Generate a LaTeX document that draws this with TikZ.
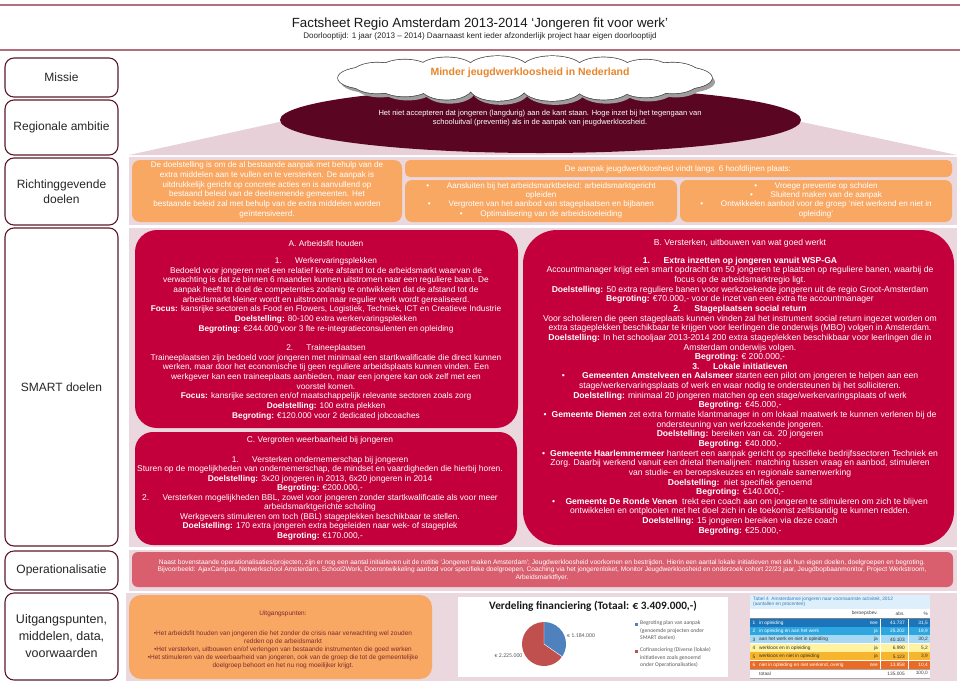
\documentclass[tikz,border=0pt]{standalone}
\usepackage{fontspec}
\setmainfont{Liberation Sans}
\newfontfamily\calfont{Carlito}
\definecolor{lblline}{HTML}{5A1A2A}
\definecolor{pinkbg}{HTML}{EAD8DE}
\definecolor{pinktrap}{HTML}{E7D0D8}
\definecolor{orbox}{HTML}{F9A864}
\definecolor{crim}{HTML}{C4003C}
\definecolor{ellfill}{HTML}{5A0622}
\definecolor{rosebox}{HTML}{D95F6F}
\definecolor{headln}{HTML}{B46F7F}
\definecolor{cloudtxt}{HTML}{E8852B}
\definecolor{uittxt}{HTML}{7A2A2E}
\definecolor{pieblue}{HTML}{4F81BD}
\definecolor{piered}{HTML}{C0504D}
\definecolor{tcap}{HTML}{DCEFFA}
\definecolor{tcaptxt}{HTML}{3A7DBE}
\definecolor{rowA}{HTML}{1B75BB}
\definecolor{rowB}{HTML}{2EA6E0}
\definecolor{rowC}{HTML}{A8D9F2}
\definecolor{rowD}{HTML}{FFF3A2}
\definecolor{rowE}{HTML}{F7B52E}
\definecolor{rowF}{HTML}{EB6B25}
\newcommand{\fsz}[2]{\fontsize{#1}{#2}\selectfont}
\newcommand{\puffs}{0/30/11, 20/26/12, 40/27/13, 60/28/13, 80/30/13, 100/28/13, 120/26/13, 140/27/12, 160/26/12, 180/30/11, 200/26/12, 220/27/12, 240/28/12, 260/30/12, 280/30/12, 300/28/12, 320/26/12, 340/27/12}
\begin{document}
\begin{tikzpicture}[x=1pt,y=-1pt,
  lbl/.style={draw=lblline, line width=1.1pt, fill=white, rounded corners=9pt, font=\fsz{12}{14.5}, text=black!85, align=center, inner sep=0, minimum width=113pt},
  wtxt/.style={inner sep=0, align=center, text=white},
  tabtxt/.style={inner sep=0, font=\fsz{4.8}{5.5}},
  legtxt/.style={inner sep=0, align=left, anchor=north west, font=\calfont\fsz{5.6}{7.4}, text=black!65}
]
\useasboundingbox (0,0) rectangle (960,683);
\fill[white] (0,0) rectangle (960,683);

% header
\draw[headln, line width=2pt] (0,5) -- (960,5);
\draw[headln, line width=2pt] (0,50) -- (960,50);
\node[inner sep=0, font=\fsz{13.3}{15}, text=black!90] (title) at (480,24) {Factsheet Regio Amsterdam 2013-2014 ‘Jongeren fit voor werk’};
\node[inner sep=0, font=\fsz{8.1}{9}, text=black!85] (subtitle) at (480,36.5) {Doorlooptijd: 1 jaar (2013 – 2014) Daarnaast kent ieder afzonderlijk project haar eigen doorlooptijd};

% left labels
\node[lbl, minimum height=39pt] (missie) at (61.5,77.5) {Missie};
\node[lbl, minimum height=55pt] (ambitie) at (61.5,127.5) {Regionale ambitie};
\node[lbl, minimum height=67pt] (richt) at (61.5,191.5) {Richtinggevende\\doelen};
\node[lbl, minimum height=318pt] (smart) at (61.5,387) {SMART doelen};
\node[lbl, minimum height=39pt] (oper) at (61.5,570.5) {Operationalisatie};
\node[lbl, minimum height=87pt, font=\fsz{12.5}{17}] (uitg) at (61.5,636.5) {Uitgangspunten,\\middelen, data,\\voorwaarden};

% pink panels
\fill[pinktrap] (284,121) -- (797,121) -- (957,155) -- (129,155) -- cycle;
\fill[pinkbg] (129,157) rectangle (957,225);
\fill[pinkbg] (129,228) rectangle (957,547);
\fill[pinkbg] (129,550) rectangle (957,591);
\fill[pinkbg] (126,593) rectangle (957,681);

% ambition ellipse
\fill[ellfill] (540.5,120) ellipse [x radius=260.5, y radius=33];
\node[wtxt, font=\fsz{7.5}{9}, anchor=north] (ambtxt) at (540,110) {Het niet accepteren dat jongeren (langdurig) aan de kant staan. Hoge inzet bij het tegengaan van\\schooluitval (preventie) als in de aanpak van jeugdwerkloosheid.};

% mission cloud (drawn from puffs)
\foreach \a/\rx/\ry in \puffs
  \fill[black!38, shift={(528,82)}] (\a:157 and 10) ellipse [x radius=\rx, y radius=\ry];
\foreach \a/\rx/\ry in \puffs
  \draw[black!75, line width=1.4pt, shift={(525,78)}] (\a:157 and 10) ellipse [x radius=\rx, y radius=\ry];
\foreach \a/\rx/\ry in \puffs
  \fill[white, shift={(525,78)}] (\a:157 and 10) ellipse [x radius=\rx, y radius=\ry];
\fill[white] (525,78) ellipse [x radius=157, y radius=10];
\node[inner sep=0, font=\bfseries\fsz{10.5}{12}, text=cloudtxt] (cloudtext) at (530,73) {Minder jeugdwerkloosheid in Nederland};

% richtinggevende doelen
\fill[orbox, rounded corners=8pt] (132,160) rectangle (402,222);
\fill[orbox, rounded corners=5pt] (405,160) rectangle (952,177);
\fill[orbox, rounded corners=7pt] (405,180) rectangle (677,222);
\fill[orbox, rounded corners=7pt] (680,180) rectangle (952,222);
\node[wtxt, font=\fsz{8.1}{9.8}, anchor=north] (richtL) at (267,161.5) {De doelstelling is om de al bestaande aanpak met behulp van de\\extra middelen aan te vullen en te versterken. De aanpak is\\uitdrukkelijk gericht op concrete acties en is aanvullend op\\bestaand beleid van de deelnemende gemeenten. Het\\bestaande beleid zal met behulp van de extra middelen worden\\geïntensiveerd.};
\node[wtxt, font=\fsz{8.1}{9.4}, anchor=base] (richtT) at (678,171.5) {De aanpak jeugdwerkloosheid vindt langs\ \ 6 hoofdlijnen plaats:};
\node[wtxt, font=\fsz{8.1}{9.2}, anchor=north] (richtA) at (541,182.5) {•\hspace{2.2em}Aansluiten bij het arbeidsmarktbeleid: arbeidsmarktgericht\\opleiden\\•\hspace{2.2em}Vergroten van het aanbod van stageplaatsen en bijbanen\\•\hspace{2.2em}Optimalisering van de arbeidstoeleiding};
\node[wtxt, font=\fsz{8.1}{9.2}, anchor=north] (richtB) at (816,182.5) {•\hspace{2.2em}Vroege preventie op scholen\\•\hspace{2.2em}Sluitend maken van de aanpak\\•\hspace{2.2em}Ontwikkelen aanbod voor de groep ‘niet werkend en niet in\\opleiding’};

% SMART boxes
\fill[crim, rounded corners=22pt] (135,230) rectangle (518,428);
\fill[crim, rounded corners=18pt] (135,432) rectangle (517,545);
\fill[crim, rounded corners=34pt] (523,230) rectangle (954,545);

\node[wtxt, font=\fsz{8.3}{9.7}, anchor=north] (atext) at (326,240.2) {A. Arbeidsfit houden\\[7.3pt]
1.\hspace{1.6em}Werkervaringsplekken\\
Bedoeld voor jongeren met een relatief korte afstand tot de arbeidsmarkt waarvan de\\
verwachting is dat ze binnen 6 maanden kunnen uitstromen naar een reguliere baan. De\\
aanpak heeft tot doel de competenties zodanig te ontwikkelen dat de afstand tot de\\
arbeidsmarkt kleiner wordt en uitstroom naar regulier werk wordt gerealiseerd.\\
\textbf{Focus:} kansrijke sectoren als Food en Flowers, Logistiek, Techniek, ICT en Creatieve Industrie\\
\textbf{Doelstelling:} 80-100 extra werkervaringsplekken\\
\textbf{Begroting:} €244.000 voor 3 fte re-integratieconsulenten en opleiding\\[9.3pt]
2.\hspace{1.6em}Traineeplaatsen\\
Traineeplaatsen zijn bedoeld voor jongeren met minimaal een startkwalificatie die direct kunnen\\
werken, maar door het economische tij geen reguliere arbeidsplaats kunnen vinden. Een\\
werkgever kan een traineeplaats aanbieden, maar een jongere kan ook zelf met een\\
voorstel komen.\\
\textbf{Focus:} kansrijke sectoren en/of maatschappelijk relevante sectoren zoals zorg\\
\textbf{Doelstelling:} 100 extra plekken\\
\textbf{Begroting:} €120.000 voor 2 dedicated jobcoaches};

\node[wtxt, font=\fsz{8.4}{9.5}, anchor=north] (ctext) at (320,436.3) {C. Vergroten weerbaarheid bij jongeren\\[10.4pt]
1.\hspace{1.6em}Versterken ondernemerschap bij jongeren\\
Sturen op de mogelijkheden van ondernemerschap, de mindset en vaardigheden die hierbij horen.\\
\textbf{Doelstelling:} 3x20 jongeren in 2013, 6x20 jongeren in 2014\\
\textbf{Begroting:} €200.000,-\\
2.\hspace{1.6em}Versterken mogelijkheden BBL, zowel voor jongeren zonder startkwalificatie als voor meer\\
arbeidsmarktgerichte scholing\\
Werkgevers stimuleren om toch (BBL) stageplekken beschikbaar te stellen.\\
\textbf{Doelstelling:} 170 extra jongeren extra begeleiden naar wek- of stageplek\\
\textbf{Begroting:} €170.000,-};

\node[wtxt, font=\fsz{8.6}{9.64}, anchor=north] (btext) at (740,238.8) {B. Versterken, uitbouwen van wat goed werkt\\[8.4pt]
\textbf{1.\hspace{1.6em}Extra inzetten op jongeren vanuit WSP-GA}\\
Accountmanager krijgt een smart opdracht om 50 jongeren te plaatsen op reguliere banen, waarbij de\\
focus op de arbeidsmarktregio ligt.\\
\textbf{Doelstelling:} 50 extra reguliere banen voor werkzoekende jongeren uit de regio Groot-Amsterdam\\
\textbf{Begroting:} €70.000,- voor de inzet van een extra fte accountmanager\\
\textbf{2.\hspace{1.6em}Stageplaatsen social return}\\
Voor scholieren die geen stageplaats kunnen vinden zal het instrument social return ingezet worden om\\
extra stageplekken beschikbaar te krijgen voor leerlingen die onderwijs (MBO) volgen in Amsterdam.\\
\textbf{Doelstelling:} In het schooljaar 2013-2014 200 extra stageplekken beschikbaar voor leerlingen die in\\
Amsterdam onderwijs volgen.\\
\textbf{Begroting:} € 200.000,-\\
\textbf{3.\hspace{1.6em}Lokale initiatieven}\\
•\hspace{2em}\textbf{Gemeenten Amstelveen en Aalsmeer} starten een pilot om jongeren te helpen aan een\\
stage/werkervaringsplaats of werk en waar nodig te ondersteunen bij het solliciteren.\\
\textbf{Doelstelling:} minimaal 20 jongeren matchen op een stage/werkervaringsplaats of werk\\
\textbf{Begroting:} €45.000,-\\
•\hspace{0.6em}\textbf{Gemeente Diemen} zet extra formatie klantmanager in om lokaal maatwerk te kunnen verlenen bij de\\
ondersteuning van werkzoekende jongeren.\\
\textbf{Doelstelling:} bereiken van ca. 20 jongeren\\
\textbf{Begroting:} €40.000,-\\
•\hspace{0.6em}\textbf{Gemeente Haarlemmermeer} hanteert een aanpak gericht op specifieke bedrijfssectoren Techniek en\\
Zorg. Daarbij werkend vanuit een drietal themalijnen: matching tussen vraag en aanbod, stimuleren\\
van studie- en beroepskeuzes en regionale samenwerking\\
\textbf{Doelstelling:}\ \ niet specifiek genoemd\\
\textbf{Begroting:} €140.000,-\\
•\hspace{1.2em}\textbf{Gemeente De Ronde Venen}\ \ trekt een coach aan om jongeren te stimuleren om zich te blijven\\
ontwikkelen en ontplooien met het doel zich in de toekomst zelfstandig te kunnen redden.\\
\textbf{Doelstelling:} 15 jongeren bereiken via deze coach\\
\textbf{Begroting:} €25.000,-};

% operationalisatie
\fill[rosebox, rounded corners=6pt] (132,552) rectangle (953,587);
\node[wtxt, font=\fsz{6.6}{7.6}, anchor=north] (opertext) at (542,559.4) {Naast bovenstaande operationalisaties/projecten, zijn er nog een aantal initiatieven uit de notitie ‘Jongeren maken Amsterdam’; Jeugdwerkloosheid voorkomen en bestrijden. Hierin een aantal lokale initiatieven met elk hun eigen doelen, doelgroepen en begroting.\\
Bijvoorbeeld: AjaxCampus, Netwerkschool Amsterdam, School2Work, Doorontwikkeling aanbod voor specifieke doelgroepen, Coaching via het jongerenloket, Monitor Jeugdwerkloosheid en onderzoek cohort 22/23 jaar, Jeugdbopbaanmonitor, Project Werkstroom,\\
Arbeidsmarktflyer.};

% uitgangspunten
\fill[orbox, rounded corners=12pt] (129,595) rectangle (432,679);
\node[inner sep=0, align=center, text=uittxt, font=\fsz{6.5}{8}, anchor=north] (uitgtext) at (283,610.7) {Uitgangspunten:\\[12pt]
•Het arbeidsfit houden van jongeren die het zonder de crisis naar verwachting wel zouden\\
redden op de arbeidsmarkt\\
•Het versterken, uitbouwen en/of verlengen van bestaande instrumenten die goed werken\\
•Het stimuleren van de weerbaarheid van jongeren, ook van de groep die tot de gemeentelijke\\
doelgroep behoort en het nu nog moeilijker krijgt.};

% chart
\fill[white] (458,597) rectangle (728,677);
\node[inner sep=0, font=\calfont\bfseries\fsz{11.3}{13}, text=black!90] (charttitle) at (593,606) {Verdeling financiering (Totaal: € 3.409.000,-)};
\begin{scope}[shift={(544,644)}, x=1pt, y=1pt]
  \fill[piered] (0,0) -- (-35:22) arc[start angle=-35, end angle=-270, radius=22] -- cycle;
  \fill[pieblue] (0,0) -- (90:22) arc[start angle=90, end angle=-35, radius=22] -- cycle;
  \draw[white, line width=0.4pt] (90:22) -- (0,0) -- (-35:22);
\end{scope}
\node[inner sep=0, anchor=west, font=\calfont\fsz{5.8}{7}, text=black!65] (lblblue) at (567,636) {€ 1.184.000};
\node[inner sep=0, font=\calfont\fsz{5.8}{7}, text=black!65] (lblred) at (508.5,656) {€ 2.225.000};
\fill[pieblue] (634.5,622.5) rectangle (637.5,625.5);
\fill[piered] (634.5,649.5) rectangle (637.5,652.5);
\node[legtxt] (legblue) at (640,620.5) {Begroting plan van aanpak\\(genoemde projecten onder\\SMART doelen)};
\node[legtxt] (legred) at (640,647.5) {Cofinanciering (Diverse (lokale)\\initiatieven zoals genoemd\\onder Operationalisaties)};

% table
\fill[white] (750,595) rectangle (930,679);
\fill[tcap] (750,595) rectangle (930,609);
\node[inner sep=0, anchor=north west, align=left, text=tcaptxt, font=\fsz{4.8}{5}] (tabcap) at (753,597) {Tabel 4\ \ Amsterdamse jongeren naar voornaamste activiteit, 2012\\(aantallen en procenten)};
\node[tabtxt, anchor=east, text=black!75] (hbb) at (878,613.5) {beroepsbev.};
\node[tabtxt, anchor=east, text=black!75] (habs) at (905,613.5) {abs.};
\node[tabtxt, anchor=east, text=black!75] (hpc) at (928,613.5) {\%};
\draw[black!50, line width=0.4pt] (750,618) -- (930,618);
\foreach \i/\lab/\bb/\ab/\pc/\bg/\tc in {
  1/in opleiding/nee/41.737/{31,5}/rowA/white,
  2/in opleiding en aan het werk/ja/25.202/{18,9}/rowB/white,
  3/aan het werk en niet in opleiding/ja/40.103/{30,2}/rowC/black!80,
  4/werkloos en in opleiding/ja/6.990/{5,2}/rowD/black!80,
  5/werkloos en niet in opleiding/ja/5.123/{3,9}/rowE/black!80,
  6/{niet in opleiding en niet werkend, overig}/nee/13.858/{10,4}/rowF/white}
{
  \pgfmathsetmacro{\yt}{618.6+(\i-1)*8.4}
  \fill[\bg] (750,\yt) rectangle (880,\yt+8);
  \fill[\bg] (881,\yt) rectangle (908,\yt+8);
  \fill[\bg] (909,\yt) rectangle (930,\yt+8);
  \node[tabtxt, anchor=west, text=\tc] (rn\i) at (752.5,\yt+4.2) {\i};
  \node[tabtxt, anchor=west, text=\tc] (rl\i) at (759,\yt+4.2) {\lab};
  \node[tabtxt, anchor=east, text=\tc] (rb\i) at (878,\yt+4.2) {\bb};
  \node[tabtxt, anchor=east, text=\tc] (ra\i) at (905,\yt+4.2) {\ab};
  \node[tabtxt, anchor=east, text=\tc] (rp\i) at (928,\yt+4.2) {\pc};
}
\draw[black!35, line width=0.3pt] (750,669.4) -- (930,669.4);
\node[tabtxt, anchor=west, text=black!75] (rltot) at (759,673.6) {totaal};
\node[tabtxt, anchor=east, text=black!75] (ratot) at (905,673.6) {135.005};
\node[tabtxt, anchor=east, text=black!75] (rptot) at (928,673.6) {100,0};
\draw[black!35, line width=0.3pt] (750,678) -- (930,678);
\end{tikzpicture}
\end{document}
